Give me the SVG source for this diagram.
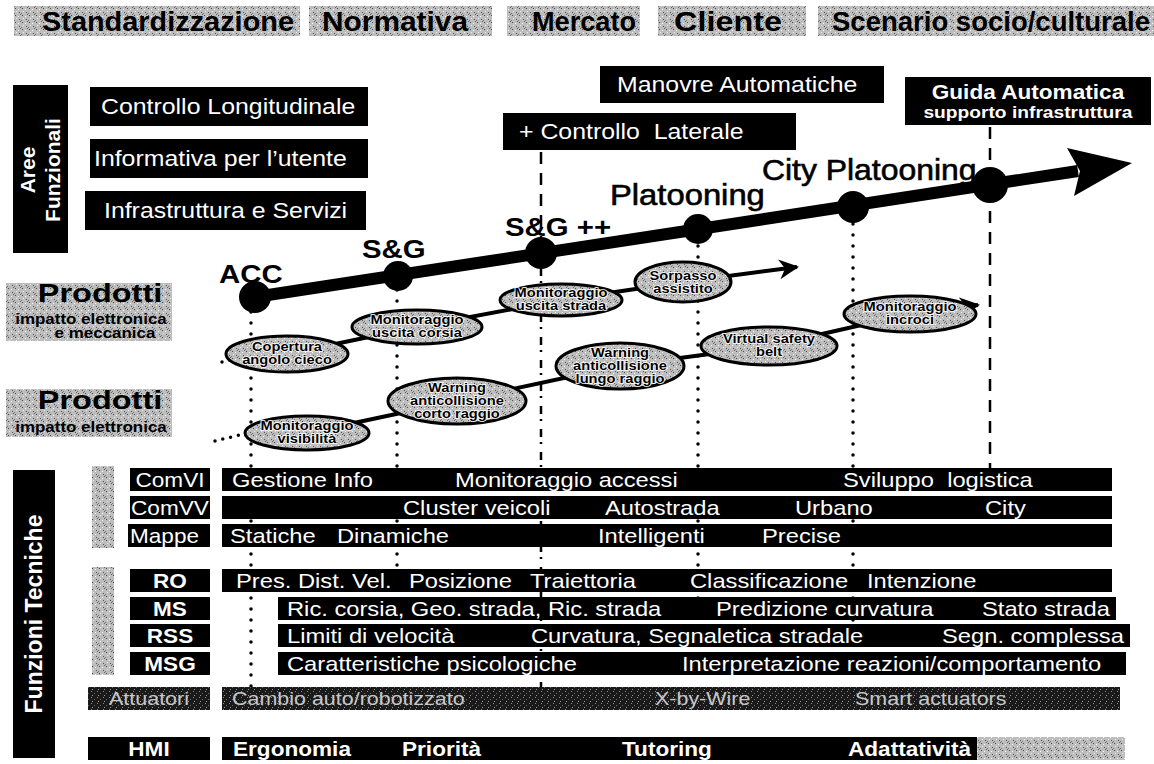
<svg xmlns="http://www.w3.org/2000/svg" width="1154" height="764" viewBox="0 0 1154 764">
<defs>
<pattern id="tex" width="7" height="7" patternUnits="userSpaceOnUse">
<rect width="7" height="7" fill="#bdbdbd"/>
<rect x="1" y="1" width="1" height="1" fill="#4a4a4a"/>
<rect x="4" y="2" width="1" height="1" fill="#fff"/>
<rect x="5" y="5" width="1" height="1" fill="#555"/>
<rect x="2" y="4" width="1" height="1" fill="#eee"/>
<rect x="0" y="6" width="1" height="1" fill="#777"/>
<rect x="6" y="0" width="1" height="1" fill="#666"/>
</pattern>
<pattern id="dtex" width="6" height="6" patternUnits="userSpaceOnUse">
<rect width="6" height="6" fill="#1a1a1a"/>
<rect x="1" y="1" width="1" height="1" fill="#888"/>
<rect x="4" y="3" width="1" height="1" fill="#666"/>
<rect x="2" y="5" width="1" height="1" fill="#999"/>
</pattern>
<marker id="ah" viewBox="0 0 10 10" refX="9" refY="5" markerWidth="5" markerHeight="5" orient="auto" markerUnits="strokeWidth">
<path d="M0,0 L10,5 L0,10 L3,5 z" fill="#000"/>
</marker>
</defs>
<style>
text{font-family:"Liberation Sans",Arial,sans-serif;transform-box:fill-box;transform-origin:0 50%;transform:scaleX(1.13)}
text.m{text-anchor:middle;transform-origin:50% 50%}
text.ns{transform:none}
.hdr{font-size:27px;font-weight:bold;fill:#000}
.tex{fill:url(#tex)}
.blk{fill:#000}
.wt{fill:#fff;font-size:22px;white-space:pre}
.wb{fill:#fff;font-size:20px;font-weight:bold}
.rl{fill:#fff;font-size:20px}
.bar{fill:#fff;font-size:21px;white-space:pre}
.hb{fill:#fff;font-size:20px;font-weight:bold}
.lbl{font-size:26px;font-weight:bold;fill:#000}
.lbn{font-size:29px;fill:#000;stroke:#000;stroke-width:0.6}
.ell{fill:url(#tex);stroke:#000;stroke-width:3}
.et{font-size:13px;font-weight:bold;fill:#000;stroke:#fff;stroke-width:1.6;paint-order:stroke}
.dot{stroke:#000;stroke-width:3.5;stroke-linecap:round;stroke-dasharray:0 11;fill:none}
.dash{stroke:#000;stroke-width:2.5;stroke-dasharray:12 9;fill:none}
.pl{stroke:#000;stroke-width:4;fill:none}
.att{fill:#c8c8c8;font-size:19px}
text.pr{font-size:25px;font-weight:bold;fill:#000;transform:scaleX(1.3)}
.ps{font-size:15px;font-weight:bold;fill:#000}
</style>

<!-- Header -->
<g id="header">
<g id="h-std"><rect x="14" y="6" width="286" height="30" class="tex"/><text x="42" y="31" class="hdr ns" textLength="252" lengthAdjust="spacingAndGlyphs">Standardizzazione</text></g>
<g id="h-norm"><rect x="309" y="6" width="183" height="30" class="tex"/><text x="322" y="31" class="hdr ns" textLength="146" lengthAdjust="spacingAndGlyphs">Normativa</text></g>
<g id="h-merc"><rect x="507" y="6" width="133" height="30" class="tex"/><text x="532" y="31" class="hdr ns" textLength="104" lengthAdjust="spacingAndGlyphs">Mercato</text></g>
<g id="h-cli"><rect x="658" y="6" width="148" height="30" class="tex"/><text x="674" y="31" class="hdr ns" textLength="108" lengthAdjust="spacingAndGlyphs">Cliente</text></g>
<g id="h-scen"><rect x="818" y="6" width="336" height="30" class="tex"/><text x="832" y="31" class="hdr ns" textLength="318" lengthAdjust="spacingAndGlyphs">Scenario socio/culturale</text></g>
</g>

<!-- Aree funzionali -->
<g id="aree">
<rect x="13" y="85" width="55" height="168" class="blk"/>
<g transform="translate(35,170) rotate(-90)"><text x="0" y="0" class="wb ns" text-anchor="middle" style="font-size:21px">Aree</text></g>
<g transform="translate(60,170) rotate(-90)"><text x="0" y="0" class="wb ns" text-anchor="middle" style="font-size:21px">Funzionali</text></g>
</g>
<g id="af-long"><rect x="90" y="87" width="278" height="39" class="blk"/><text x="101" y="114" class="wt">Controllo Longitudinale</text></g>
<g id="af-info"><rect x="90" y="139" width="278" height="39" class="blk"/><text x="94" y="166" class="wt">Informativa per l’utente</text></g>
<g id="af-infra"><rect x="85" y="191" width="281" height="39" class="blk"/><text x="104" y="218" class="wt">Infrastruttura e Servizi</text></g>
<g id="af-lat"><rect x="503" y="113" width="293" height="37" class="blk"/><text x="519" y="139" class="wt">+ Controllo  Laterale</text></g>
<g id="af-man"><rect x="600" y="66" width="284" height="37" class="blk"/><text x="617" y="92" class="wt">Manovre Automatiche</text></g>
<g id="af-guida"><rect x="905" y="77" width="246" height="48" class="blk"/><text x="1028" y="99" class="m" style="fill:#fff;font-size:20px;font-weight:bold">Guida Automatica</text><text x="1028" y="118" class="m" style="fill:#fff;font-size:17px;font-weight:bold">supporto infrastruttura</text></g>

<!-- Connectors -->
<g id="connectors">
<line x1="251" y1="312" x2="251" y2="690" class="dot"/>
<line x1="397" y1="290" x2="397" y2="598" class="dot"/>
<line x1="541" y1="152" x2="541" y2="240" class="dash"/>
<line x1="541" y1="268" x2="541" y2="700" class="dash" style="stroke-dasharray:8 5 2 8"/>
<line x1="698" y1="246" x2="698" y2="600" class="dot"/>
<line x1="853" y1="224" x2="853" y2="632" class="dot"/>
<line x1="990" y1="127" x2="990" y2="468" class="dash"/>
<line x1="255" y1="297" x2="1078" y2="171" stroke="#000" stroke-width="12"/>
<polygon points="1132,163 1067,148 1080,171 1074,196" fill="#000"/>
<polyline points="222,362 246,357" class="dot" style="stroke-dasharray:0 8"/>
<polyline points="287,354 417,327 561,300 683,282 797,267" class="pl" marker-end="url(#ah)"/>
<polyline points="215,441 248,433" class="dot" style="stroke-dasharray:0 8"/>
<polyline points="307,433 457,401 620,366 769,346 910,314 978,305" class="pl" marker-end="url(#ah)"/>
</g>

<!-- milestones -->
<g id="m-acc"><circle cx="255" cy="297" r="16" class="blk"/><text x="219" y="283" class="lbl">ACC</text></g>
<g id="m-sg"><circle cx="398" cy="276" r="15" class="blk"/><text x="362" y="258" class="lbl">S&amp;G</text></g>
<g id="m-sgpp"><circle cx="541" cy="253" r="16" class="blk"/><text x="505" y="236" class="lbl">S&amp;G ++</text></g>
<g id="m-plat"><circle cx="698" cy="229" r="15" class="blk"/><text x="610" y="205" class="lbn">Platooning</text></g>
<g id="m-city"><circle cx="853" cy="207" r="16" class="blk"/><text x="762" y="180" class="lbn" style="transform:scaleX(1.1)">City Platooning</text></g>
<g id="m-guida"><circle cx="990" cy="185" r="18" class="blk"/></g>

<!-- Prodotti labels -->
<g id="prod1"><rect x="6" y="283" width="166" height="58" class="tex"/><text x="100" y="302" class="pr m">Prodotti</text><text x="91" y="324" class="ps m">impatto elettronica</text><text x="105" y="338" class="ps m">e meccanica</text></g>
<g id="prod2"><rect x="6" y="389" width="166" height="48" class="tex"/><text x="100" y="409" class="pr m">Prodotti</text><text x="91" y="432" class="ps m">impatto elettronica</text></g>

<!-- Ellipses -->
<g id="e-cop"><ellipse cx="287" cy="354" rx="61" ry="18" class="ell"/><text x="287" y="351" class="et m">Copertura</text><text x="287" y="364" class="et m">angolo cieco</text></g>
<g id="e-mcor"><ellipse cx="417" cy="327" rx="65" ry="17" class="ell"/><text x="417" y="324" class="et m">Monitoraggio</text><text x="417" y="337" class="et m">uscita corsia</text></g>
<g id="e-mstr"><ellipse cx="561" cy="300" rx="61" ry="16" class="ell"/><text x="561" y="297" class="et m">Monitoraggio</text><text x="561" y="310" class="et m">uscita strada</text></g>
<g id="e-sorp"><ellipse cx="683" cy="282" rx="48" ry="20" class="ell"/><text x="683" y="280" class="et m">Sorpasso</text><text x="683" y="293" class="et m">assistito</text></g>
<g id="e-mvis"><ellipse cx="307" cy="433" rx="62" ry="17" class="ell"/><text x="307" y="430" class="et m">Monitoraggio</text><text x="307" y="443" class="et m">visibilità</text></g>
<g id="e-wcor"><ellipse cx="457" cy="401" rx="69" ry="23" class="ell"/><text x="457" y="392" class="et m">Warning</text><text x="457" y="405" class="et m">anticollisione</text><text x="457" y="418" class="et m">corto raggio</text></g>
<g id="e-wlun"><ellipse cx="620" cy="366" rx="64" ry="23" class="ell"/><text x="620" y="357" class="et m">Warning</text><text x="620" y="370" class="et m">anticollisione</text><text x="620" y="383" class="et m">lungo raggio</text></g>
<g id="e-vsb"><ellipse cx="769" cy="346" rx="68" ry="19" class="ell"/><text x="769" y="343" class="et m">Virtual safety</text><text x="769" y="356" class="et m">belt</text></g>
<g id="e-minc"><ellipse cx="910" cy="314" rx="66" ry="18" class="ell"/><text x="910" y="311" class="et m">Monitoraggio</text><text x="910" y="324" class="et m">incroci</text></g>

<!-- Funzioni tecniche -->
<g id="ft">
<rect x="13" y="470" width="42" height="288" class="blk"/>
<g transform="translate(42,614) rotate(-90)"><text x="0" y="0" class="wb ns" text-anchor="middle" style="font-size:23px">Funzioni Tecniche</text></g>
</g>
<g id="grp1"><rect x="92" y="466" width="22" height="82" class="tex"/></g>
<g id="grp2"><rect x="92" y="567" width="22" height="108" class="tex"/></g>

<g id="r-comvi"><rect x="130" y="468" width="80" height="23" class="blk"/><text x="170" y="487" class="rl m">ComVI</text>
<rect x="222" y="468" width="890" height="23" class="blk"/><text x="232" y="487" class="bar">Gestione Info</text><text x="455" y="487" class="bar">Monitoraggio accessi</text><text x="843" y="487" class="bar">Sviluppo  logistica</text></g>
<g id="r-comvv"><rect x="130" y="496" width="80" height="23" class="blk"/><text x="170" y="515" class="rl m">ComVV</text>
<rect x="222" y="496" width="890" height="23" class="blk"/><text x="403" y="515" class="bar">Cluster veicoli</text><text x="605" y="515" class="bar">Autostrada</text><text x="795" y="515" class="bar">Urbano</text><text x="985" y="515" class="bar">City</text></g>
<g id="r-mappe"><rect x="128" y="524" width="82" height="23" class="blk"/><text x="130" y="543" class="rl">Mappe</text>
<rect x="222" y="524" width="890" height="23" class="blk"/><text x="230" y="543" class="bar">Statiche</text><text x="337" y="543" class="bar">Dinamiche</text><text x="598" y="543" class="bar">Intelligenti</text><text x="762" y="543" class="bar">Precise</text></g>
<g id="r-ro"><rect x="130" y="569" width="80" height="23" class="blk"/><text x="170" y="588" class="wb m">RO</text>
<rect x="222" y="569" width="890" height="23" class="blk"/><text x="236" y="588" class="bar">Pres. Dist. Vel.</text><text x="409" y="588" class="bar">Posizione</text><text x="530" y="588" class="bar">Traiettoria</text><text x="690" y="588" class="bar">Classificazione</text><text x="867" y="588" class="bar">Intenzione</text></g>
<g id="r-ms"><rect x="130" y="597" width="80" height="23" class="blk"/><text x="170" y="616" class="wb m">MS</text>
<rect x="278" y="597" width="838" height="23" class="blk"/><text x="287" y="616" class="bar">Ric. corsia, Geo. strada, Ric. strada</text><text x="716" y="616" class="bar">Predizione curvatura</text><text x="982" y="616" class="bar">Stato strada</text></g>
<g id="r-rss"><rect x="130" y="624" width="80" height="23" class="blk"/><text x="170" y="643" class="wb m">RSS</text>
<rect x="278" y="624" width="852" height="23" class="blk"/><text x="287" y="643" class="bar">Limiti di velocità</text><text x="531" y="643" class="bar">Curvatura, Segnaletica stradale</text><text x="942" y="643" class="bar">Segn. complessa</text></g>
<g id="r-msg"><rect x="130" y="652" width="80" height="23" class="blk"/><text x="170" y="671" class="wb m">MSG</text>
<rect x="278" y="652" width="848" height="23" class="blk"/><text x="287" y="671" class="bar">Caratteristiche psicologiche</text><text x="682" y="671" class="bar">Interpretazione reazioni/comportamento</text></g>
<g id="r-att"><rect x="88" y="687" width="122" height="23" style="fill:url(#dtex)"/><text x="149" y="705" class="att m">Attuatori</text>
<rect x="222" y="687" width="898" height="23" style="fill:url(#dtex)"/><text x="232" y="705" class="att">Cambio auto/robotizzato</text><text x="655" y="705" class="att">X-by-Wire</text><text x="855" y="705" class="att">Smart actuators</text></g>
<g id="r-hmi"><rect x="88" y="737" width="122" height="23" class="blk"/><text x="149" y="756" class="wb m">HMI</text>
<rect x="222" y="737" width="755" height="23" class="blk"/><rect x="977" y="737" width="148" height="23" class="tex"/><text x="233" y="756" class="hb">Ergonomia</text><text x="402" y="756" class="hb">Priorità</text><text x="622" y="756" class="hb">Tutoring</text><text x="848" y="756" class="hb">Adattatività</text></g>
</svg>
